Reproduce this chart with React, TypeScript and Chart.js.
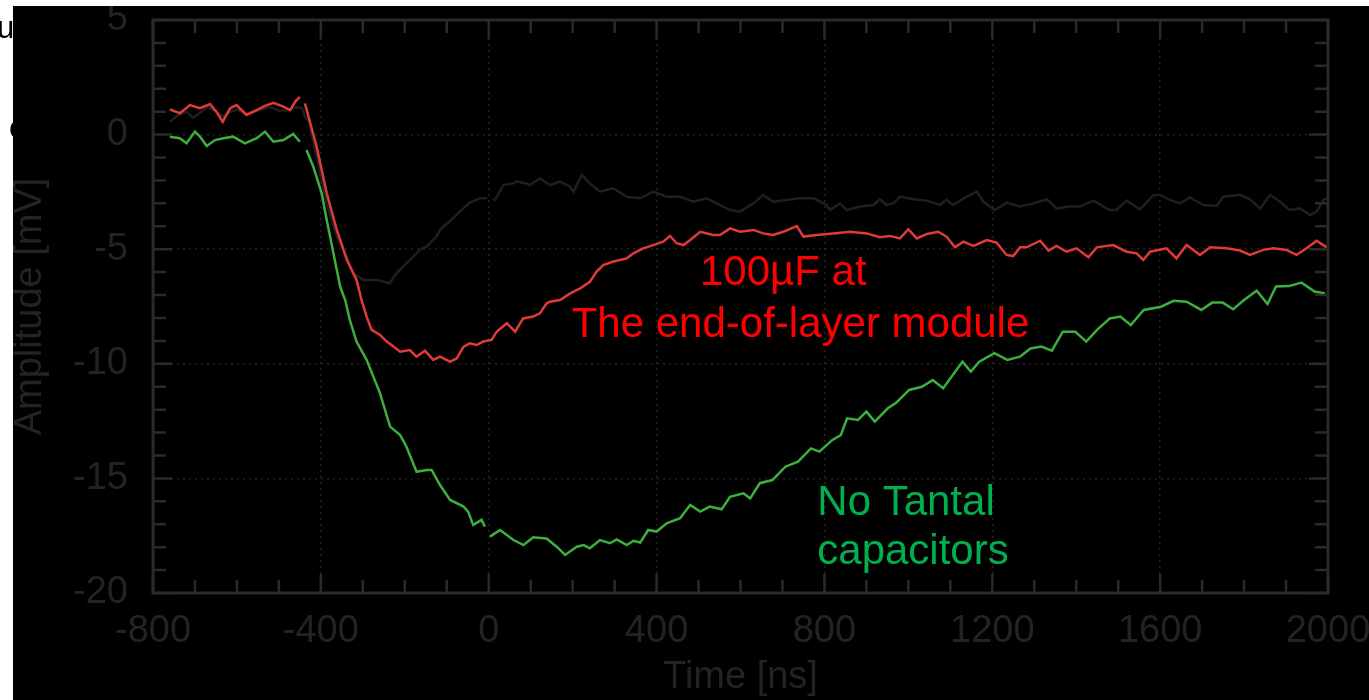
import { useEffect, useRef } from "react";
import { Chart, registerables } from "chart.js";

Chart.register(...registerables);

// Axis ranges and tick spacing
const X_MIN = -800;
const X_MAX = 2000;
const X_MAJOR = 400;
const X_MINOR = 100;
const Y_MIN = -20;
const Y_MAX = 5;
const Y_MAJOR = 5;
const Y_MINOR = 1;

// 100µF at the end-of-layer module (red)
const redTime = [
  -760, -736, -712, -688, -664, -649, -634, -616, -601, -577, -553, -533, -513, -489, -473, -461, -450, -444,
  -438, -410, -386, -362, -338, -315, -303, -291, -279, -259, -243, -227, -211, -188, -172, -152, -132, -116,
  -92, -76, -60, -45, -29, -13, 7, 19, 43, 63, 82, 106, 122, 138, 146, 170, 194, 218, 241, 257, 273, 297, 329,
  345, 368, 392, 416, 432, 448, 464, 480, 504, 535, 551, 575, 599, 631, 654, 678, 702, 734, 750, 782, 821, 861,
  901, 932, 956, 980, 1000, 1020, 1044, 1071, 1091, 1111, 1131, 1155, 1187, 1210, 1234, 1250, 1266, 1282, 1314,
  1334, 1353, 1377, 1401, 1429, 1449, 1488, 1520, 1544, 1560, 1576, 1615, 1639, 1663, 1695, 1719, 1758, 1790,
  1814, 1846, 1870, 1901, 1925, 1949, 1973, 1997,
];
const redAmp = [
  1.1, 0.93, 1.29, 1.15, 1.33, 1.0, 0.56, 1.15, 1.29, 0.86, 1.07, 1.25, 1.39, 1.22, 1.07, 1.44, 1.65, null,
  1.36, -0.53, -2.56, -4.16, -5.47, -6.34, -7.22, -7.94, -8.52, -8.74, -9.03, -9.25, -9.47, -9.4, -9.69, -9.43,
  -9.83, -9.69, -9.91, -9.76, -9.25, -9.11, -9.18, -9.03, -8.96, -8.6, -8.23, -8.6, -8.02, -7.94, -7.8, -7.36,
  -7.29, -7.22, -6.93, -6.71, -6.42, -5.98, -5.69, -5.54, -5.4, -5.18, -4.96, -4.82, -4.67, -4.42, -4.74, -4.82,
  -4.6, -4.24, -4.38, -4.38, -4.09, -4.24, -4.16, -4.31, -4.38, -4.24, -3.99, -4.45, -4.38, -4.31, -4.24, -4.31,
  -4.48, -4.42, -4.53, -4.13, -4.53, -4.34, -4.24, -4.45, -4.92, -4.67, -4.86, -4.6, -4.71, -5.25, -5.3, -4.92,
  -4.92, -4.63, -5.06, -4.86, -5.11, -4.96, -5.35, -4.92, -4.82, -5.11, -5.18, -5.47, -5.11, -4.96, -5.4, -4.82,
  -5.25, -4.92, -4.96, -5.06, -5.25, -5.03, -4.96, -5.03, -5.25, -4.96, -4.63, -4.92,
];

// No tantal capacitors (green)
const greenTime = [
  -760, -736, -720, -700, -688, -672, -652, -632, -609, -581, -553, -533, -513, -489, -466, -450, -442, -434,
  -418, -398, -386, -370, -354, -342, -331, -315, -291, -259, -235, -211, -196, -172, -148, -136, -116, -92, -60,
  -49, -37, -17, -9, -3, 3, 27, 59, 83, 106, 138, 162, 182, 210, 226, 241, 265, 289, 305, 329, 345, 361, 380,
  400, 424, 456, 480, 504, 527, 555, 575, 607, 623, 646, 676, 707, 737, 768, 788, 819, 839, 854, 880, 900, 920,
  951, 971, 1002, 1032, 1058, 1083, 1103, 1129, 1149, 1169, 1205, 1236, 1266, 1291, 1317, 1342, 1368, 1398,
  1424, 1449, 1480, 1505, 1530, 1561, 1602, 1632, 1663, 1698, 1724, 1749, 1774, 1800, 1830, 1856, 1876, 1907,
  1937, 1968, 1993,
];
const greenAmp = [
  -0.09, -0.16, -0.38, 0.13, -0.09, -0.5, -0.24, -0.16, -0.09, -0.38, -0.16, 0.13, -0.31, -0.24, 0.03, -0.31,
  null, -0.67, -1.4, -2.56, -3.73, -5.18, -6.63, -7.22, -8.09, -9.03, -9.83, -11.29, -12.74, -13.11, -13.62,
  -14.71, -14.63, -14.63, -15.29, -15.94, -16.23, -16.45, -17.03, -16.81, -17.11, null, -17.54, -17.25, -17.69,
  -17.91, -17.57, -17.62, -17.98, -18.34, -17.98, -17.91, -18.05, -17.69, -17.83, -17.66, -17.91, -17.72,
  -17.8, -17.25, -17.32, -16.96, -16.74, -16.16, -16.45, -16.23, -16.35, -15.8, -15.65, -15.87, -15.21, -15.07,
  -14.49, -14.27, -13.69, -13.83, -13.32, -13.11, -12.38, -12.45, -12.09, -12.52, -11.94, -11.7, -11.14, -11.0,
  -10.71, -11.07, -10.56, -9.91, -10.34, -9.91, -9.54, -9.83, -9.69, -9.33, -9.25, -9.43, -8.6, -8.6, -9.03,
  -8.53, -8.02, -7.94, -8.31, -7.65, -7.51, -7.25, -7.29, -7.65, -7.33, -7.33, -7.62, -7.22, -6.81, -7.39,
  -6.63, -6.61, -6.46, -6.85, -6.93,
];

// Reference trace (dark grey)
const blackTime = [
  -760, -740, -720, -704, -688, -670, -650, -632, -615, -600, -580, -560, -540, -520, -500, -480, -460, -445,
  -437, -428, -410, -386, -362, -338, -323, -299, -267, -251, -236, -220, -196, -172, -164, -148, -140, -125,
  -116, -109, -92, -69, -45, -21, -5, 3, 10, 15, 35, 59, 66, 90, 98, 122, 146, 170, 194, 202, 222, 241, 265,
  297, 329, 361, 392, 424, 456, 488, 519, 543, 575, 599, 631, 654, 678, 710, 742, 774, 805, 813, 837, 853, 885,
  917, 932, 948, 964, 980, 1012, 1044, 1075, 1091, 1107, 1139, 1163, 1179, 1206, 1234, 1266, 1298, 1330, 1353,
  1385, 1409, 1441, 1480, 1496, 1520, 1552, 1584, 1600, 1623, 1647, 1671, 1703, 1735, 1750, 1790, 1814, 1838,
  1862, 1886, 1909, 1933, 1957, 1973, 1989, 2000,
];
const blackAmp = [
  0.56, 0.85, 1.0, 0.74, 0.95, 1.2, 1.0, 0.8, 1.0, 1.1, 0.9, 1.0, 1.1, 1.2, 1.05, 1.05, 1.2, 1.15, 0.75, 0.56,
  -0.96, -3.0, -4.45, -5.33, -6.05, -6.34, -6.34, -6.42, -6.49, -6.05, -5.62, -5.18, -5.03, -4.89, -4.74, -4.45,
  -4.16, -4.02, -3.77, -3.36, -2.97, -2.78, -2.78, null, -2.8, -2.85, -2.2, -2.13, -2.05, -2.13, -2.2, -1.91,
  -2.2, -2.05, -2.27, -2.49, -1.76, -2.13, -2.49, -2.34, -2.71, -2.78, -2.49, -2.71, -2.71, -2.93, -2.78, -3.0,
  -3.29, -3.36, -3.0, -2.64, -2.93, -2.85, -2.78, -2.78, -3.07, -3.29, -3.0, -3.29, -3.14, -3.07, -2.82, -3.07,
  -3.0, -2.71, -2.82, -2.88, -3.07, -2.85, -3.07, -2.71, -2.49, -2.93, -3.29, -2.97, -3.14, -3.0, -2.82, -3.22,
  -3.14, -3.14, -2.88, -3.29, -3.29, -2.88, -3.26, -2.63, -2.63, -2.85, -3.0, -2.74, -3.07, -3.11, -2.71, -2.63,
  -2.82, -3.22, -2.63, -2.93, -3.29, -3.22, -3.51, -3.36, -2.85, -2.75,
];

// Annotation texts, anchored at [time (ns) of left edge, amplitude (mV) of baseline]
const redNote = ["100µF at", "The end-of-layer module"];
const redNoteAnchors = [
  [503.5, -6.56],
  [197.8, -8.81],
];
const greenNote = ["No Tantal", "capacitors"];
const greenNoteAnchors = [
  [783, -16.6],
  [783, -18.75],
];

const FONT = '"Liberation Sans", Arial, Helvetica, sans-serif';
const AXIS_COLOR = "#2a2a2a";
const LABEL_COLOR = "#232323";
const GRID_COLOR = "#222222";

function toPoints(t: number[], v: (number | null)[]) {
  return t.map((x, i) => ({ x, y: v[i] }));
}

const scopePlugin = {
  id: "scopeFrame",
  beforeDraw(chart: any) {
    const { ctx, width, height } = chart;
    ctx.save();
    ctx.fillStyle = "#000";
    ctx.fillRect(0, 0, width, height);
    ctx.restore();
  },
  afterDraw(chart: any) {
    const { ctx, chartArea: a, width, height } = chart;
    const xs = chart.scales.x;
    const ys = chart.scales.y;
    ctx.save();

    // frame and inward tick marks on all four sides
    ctx.strokeStyle = AXIS_COLOR;
    ctx.lineWidth = 3;
    ctx.strokeRect(a.left, a.top, a.right - a.left, a.bottom - a.top);
    ctx.lineWidth = 2.5;
    ctx.beginPath();
    for (let v = X_MIN; v <= X_MAX; v += X_MINOR) {
      const px = xs.getPixelForValue(v);
      const len = v % X_MAJOR === 0 ? 19 : 13;
      ctx.moveTo(px, a.bottom);
      ctx.lineTo(px, a.bottom - len);
      ctx.moveTo(px, a.top);
      ctx.lineTo(px, a.top + len);
    }
    for (let v = Y_MIN; v <= Y_MAX; v += Y_MINOR) {
      const py = ys.getPixelForValue(v);
      const len = v % Y_MAJOR === 0 ? 19 : 13;
      ctx.moveTo(a.left, py);
      ctx.lineTo(a.left + len, py);
      ctx.moveTo(a.right, py);
      ctx.lineTo(a.right - len, py);
    }
    ctx.stroke();

    // trace annotations
    ctx.font = `42px ${FONT}`;
    ctx.textAlign = "left";
    ctx.textBaseline = "alphabetic";
    ctx.fillStyle = "#ff0000";
    redNote.forEach((s, i) => {
      const [t, mv] = redNoteAnchors[i];
      ctx.fillText(s, xs.getPixelForValue(t), ys.getPixelForValue(mv));
    });
    ctx.fillStyle = "#00b050";
    greenNote.forEach((s, i) => {
      const [t, mv] = greenNoteAnchors[i];
      ctx.fillText(s, xs.getPixelForValue(t), ys.getPixelForValue(mv));
    });

    // white page margin around the plot panel
    ctx.fillStyle = "#ffffff";
    ctx.fillRect(0, 0, width, 6);
    ctx.fillRect(0, 0, 13, height);
    ctx.beginPath();
    ctx.rect(0, 0, 13, height);
    ctx.clip();
    ctx.fillStyle = "#000";
    ctx.font = `31px ${FONT}`;
    ctx.fillText("u", -3, 38);
    ctx.fillText("c", 9, 138);
    ctx.restore();
  },
};

export default function App() {
  const ref = useRef<HTMLCanvasElement>(null);

  useEffect(() => {
    if (!ref.current) return;
    const line = (data: any, color: string) => ({
      data,
      borderColor: color,
      backgroundColor: color,
      borderWidth: 2.5,
      pointRadius: 0,
      tension: 0,
      spanGaps: false,
    });
    const plain = (v: any) => String(v);
    const chart = new Chart(ref.current, {
      type: "line",
      data: {
        datasets: [
          line(toPoints(redTime, redAmp), "#e03a3a"),
          line(toPoints(greenTime, greenAmp), "#3daf3d"),
          line(toPoints(blackTime, blackAmp), "#1f1f1f"),
        ],
      },
      options: {
        responsive: false,
        animation: false,
        devicePixelRatio: 1,
        layout: { autoPadding: false, padding: { left: 0, top: 20, right: 41, bottom: 0 } },
        plugins: { legend: { display: false }, tooltip: { enabled: false } },
        events: [],
        scales: {
          x: {
            type: "linear",
            position: "bottom",
            min: X_MIN,
            max: X_MAX,
            afterFit: (s: any) => {
              s.height = 107;
              s.paddingLeft = 0;
              s.paddingRight = 0;
            },
            ticks: {
              stepSize: X_MAJOR,
              autoSkip: false,
              maxRotation: 0,
              padding: 16,
              color: LABEL_COLOR,
              font: { family: FONT, size: 38 },
              callback: plain,
            },
            grid: { color: GRID_COLOR, lineWidth: 1.5, drawTicks: false },
            border: { display: false, dash: [2, 4] },
            title: {
              display: true,
              text: "Time [ns]",
              color: LABEL_COLOR,
              font: { family: FONT, size: 38 },
              padding: { top: 0, bottom: 0 },
            },
          },
          y: {
            type: "linear",
            position: "left",
            min: Y_MIN,
            max: Y_MAX,
            afterFit: (s: any) => {
              s.width = 153;
              s.paddingTop = 0;
              s.paddingBottom = 0;
            },
            ticks: {
              stepSize: Y_MAJOR,
              autoSkip: false,
              padding: 25,
              color: LABEL_COLOR,
              font: { family: FONT, size: 38 },
              callback: plain,
            },
            grid: { color: GRID_COLOR, lineWidth: 1.5, drawTicks: false },
            border: { display: false, dash: [2, 4] },
            title: {
              display: true,
              text: "Amplitude [mV]",
              color: LABEL_COLOR,
              font: { family: FONT, size: 38 },
              padding: { top: 8, bottom: 0 },
            },
          },
        },
      },
      plugins: [scopePlugin],
    });
    return () => chart.destroy();
  }, []);

  return (
    <div style={{ position: "fixed", left: 0, top: 0, width: 1369, height: 700 }}>
      <canvas ref={ref} width={1369} height={700} style={{ display: "block" }} />
    </div>
  );
}
